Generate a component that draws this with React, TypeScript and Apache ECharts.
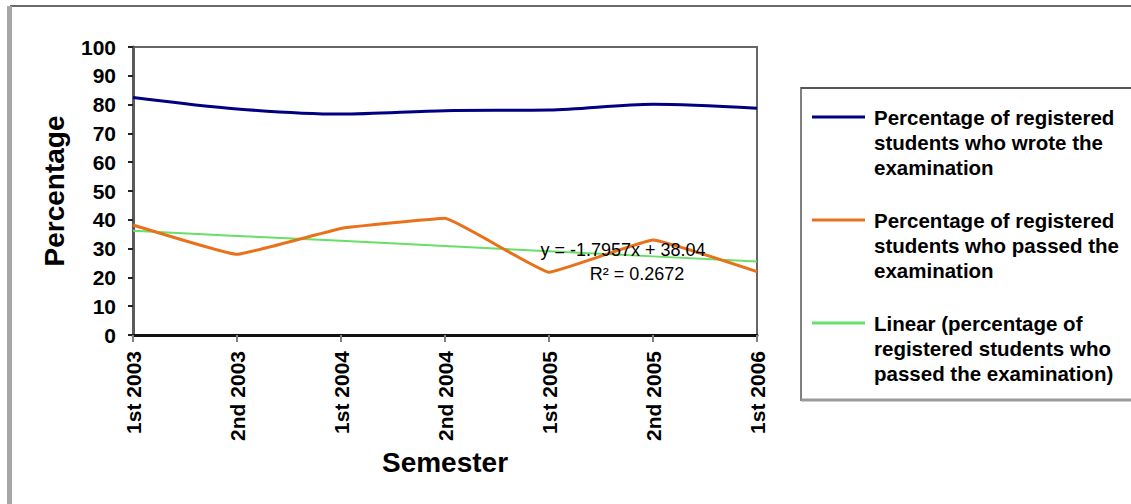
import React, { useEffect, useRef } from "react";
import * as echarts from "echarts";

const semesters = ["1st 2003", "2nd 2003", "1st 2004", "2nd 2004", "1st 2005", "2nd 2005", "1st 2006"];
const wrote = [82.5, 78.5, 76.7, 77.9, 78.1, 80.1, 78.7];
const passed = [38.2, 28.0, 37.0, 40.5, 21.8, 33.0, 22.0];
const trend = [36.2, 34.4, 32.7, 30.9, 29.1, 27.3, 25.5];
const yTicks = [0, 10, 20, 30, 40, 50, 60, 70, 80, 90, 100];
const seriesNames = [
  "Percentage of registered students who wrote the examination",
  "Percentage of registered students who passed the examination",
  "Linear (percentage of registered students who passed the examination)",
];
const legendLines = [
  ["Percentage of registered", "students who wrote the", "examination"],
  ["Percentage of registered", "students who passed the", "examination"],
  ["Linear (percentage of", "registered students who", "passed the examination)"],
];
const equation = "y = -1.7957x + 38.04";
const rSquared = "R² = 0.2672";
const colors = ["#000080", "#e8711a", "#66e066"];

const FONT = "'Liberation Sans', Arial, sans-serif";

export default function App() {
  const ref = useRef<HTMLDivElement>(null);
  useEffect(() => {
    if (!ref.current) return;
    const chart = echarts.init(ref.current, undefined, { renderer: "svg" });
    const legendGraphics: any[] = [
      {
        type: "rect",
        shape: { x: 801, y: 88, width: 340, height: 312 },
        style: { fill: "#fff", stroke: "#808080", lineWidth: 2 },
        z: 1,
      },
      {
        type: "line",
        shape: { x1: 801, y1: 88, x2: 1131, y2: 88 },
        style: { stroke: "#555", lineWidth: 2 },
        z: 2,
      },
      {
        type: "line",
        shape: { x1: 801, y1: 400, x2: 1131, y2: 400 },
        style: { stroke: "#9a9a9a", lineWidth: 3 },
        z: 2,
      },
    ];
    legendLines.forEach((lines, i) => {
      const cy = 117 + i * 103;
      legendGraphics.push({
        type: "line",
        shape: { x1: 812, y1: cy, x2: 865, y2: cy },
        style: { stroke: colors[i], lineWidth: 3 },
        z: 3,
      });
      legendGraphics.push({
        type: "text",
        x: 874,
        y: cy - 12,
        style: {
          text: lines.join("\n"),
          font: `bold 20.5px ${FONT}`,
          fill: "#000",
          lineHeight: 25,
          textVerticalAlign: "top",
        },
        z: 3,
      });
    });

    const option: any = {
      animation: false,
      backgroundColor: "#fff",
      grid: {
        left: 133,
        right: 374,
        top: 47,
        bottom: 169,
        show: true,
        borderColor: "#666",
        borderWidth: 2,
        backgroundColor: "#fff",
      },
      xAxis: {
        type: "category",
        data: semesters,
        boundaryGap: false,
        name: "Semester",
        nameLocation: "middle",
        nameGap: 113,
        nameTextStyle: { fontFamily: FONT, fontWeight: "bold", fontSize: 28, color: "#000" },
        axisLine: { lineStyle: { color: "#111", width: 3 } },
        axisTick: { show: true, length: 7, lineStyle: { color: "#808080", width: 2 } },
        axisLabel: {
          rotate: 90,
          margin: 16,
          fontFamily: FONT,
          fontWeight: "bold",
          fontSize: 21,
          color: "#000",
        },
        splitLine: { show: false },
      },
      yAxis: {
        type: "value",
        min: yTicks[0],
        max: yTicks[yTicks.length - 1],
        interval: yTicks[1] - yTicks[0],
        name: "Percentage",
        nameLocation: "middle",
        nameRotate: 90,
        nameGap: 65,
        nameTextStyle: { fontFamily: FONT, fontWeight: "bold", fontSize: 28, color: "#000" },
        axisLine: { show: true, lineStyle: { color: "#5a5a5a", width: 3 } },
        axisTick: { show: true, length: 5, lineStyle: { color: "#222", width: 2 } },
        axisLabel: {
          margin: 17,
          fontFamily: FONT,
          fontWeight: "bold",
          fontSize: 21,
          color: "#000",
        },
        splitLine: { show: false },
      },
      series: [
        {
          name: seriesNames[0],
          type: "line",
          data: wrote,
          smooth: 0.3,
          symbol: "none",
          lineStyle: { color: colors[0], width: 3 },
          z: 3,
        },
        {
          name: seriesNames[1],
          type: "line",
          data: passed,
          smooth: 0.08,
          symbol: "none",
          lineStyle: { color: colors[1], width: 3 },
          z: 4,
        },
        {
          name: seriesNames[2],
          type: "line",
          data: trend,
          symbol: "none",
          lineStyle: { color: colors[2], width: 2 },
          z: 2,
        },
      ],
      graphic: [
        {
          type: "line",
          shape: { x1: 10, y1: 6, x2: 1131, y2: 6 },
          style: { stroke: "#6a6a6a", lineWidth: 2 },
        },
        {
          type: "line",
          shape: { x1: 9.5, y1: 6, x2: 9.5, y2: 504 },
          style: { stroke: "#a6a6a6", lineWidth: 5 },
        },
        ...legendGraphics,
        {
          type: "text",
          x: 623,
          y: 250,
          style: {
            text: equation,
            font: `18px ${FONT}`,
            fill: "#000",
            textAlign: "center",
            textVerticalAlign: "middle",
          },
          z: 10,
        },
        {
          type: "text",
          x: 637,
          y: 274,
          style: {
            text: rSquared,
            font: `18px ${FONT}`,
            fill: "#000",
            textAlign: "center",
            textVerticalAlign: "middle",
          },
          z: 10,
        },
      ],
    };
    chart.setOption(option);
    return () => chart.dispose();
  }, []);
  return (
    <div
      ref={ref}
      style={{ position: "fixed", left: 0, top: 0, width: 1131, height: 504, background: "#fff" }}
    />
  );
}
